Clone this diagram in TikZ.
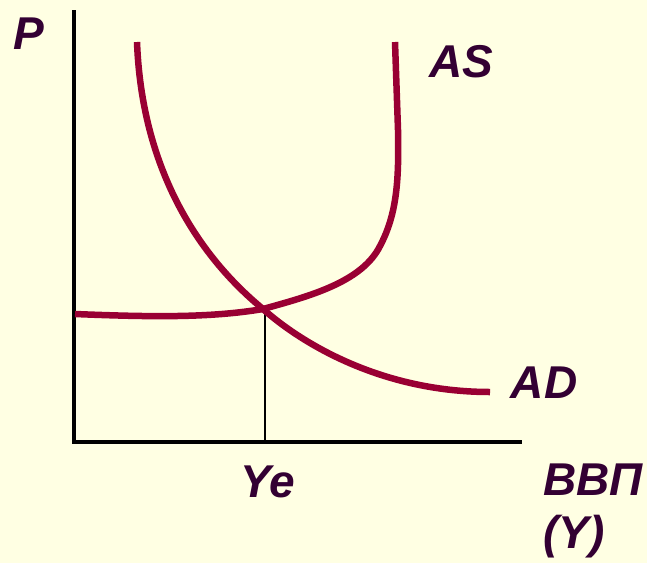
\documentclass[tikz,border=0pt]{standalone}
\usepackage{fontspec}
\setmainfont{Liberation Sans}
\definecolor{bgc}{HTML}{FFFFE3}
\definecolor{curvec}{HTML}{990033}
\definecolor{txtc}{HTML}{330033}
\begin{document}
\begin{tikzpicture}[x=1pt,y=-1pt,
  lbl/.style={text=txtc,font=\fontsize{46}{48}\selectfont\bfseries\itshape,inner sep=0pt},
  axis/.style={line width=4pt,black},
  curve/.style={line width=6.5pt,curvec}]
\fill[bgc] (0,0) rectangle (647,563);
\useasboundingbox (0,0) rectangle (647,563);
\coordinate (O) at (74,442);
\coordinate (ytop) at (74,10);
\coordinate (xend) at (522,442);
\draw[axis] (ytop) -- (O) -- (xend);
\coordinate (E) at (263,309);
\coordinate (Ebase) at (265,442);
\draw[line width=1.5pt] (265,309) -- (Ebase);
% AD
\coordinate (adtop) at (137,42);
\coordinate (adend) at (490,392);
\draw[curve] (adtop) .. controls (143,200) and (228,280) .. (E)
  .. controls (300,342) and (380,392) .. (adend);
% AS
\coordinate (asstart) at (75,314);
\coordinate (astop) at (395,42);
\draw[curve] (asstart) .. controls (150,317) and (210,318) .. (E)
  .. controls (310,296) and (362,282) .. (380,246)
  .. controls (397,214) and (399,180) .. (398,130) -- (astop);
\node[lbl] (P) at (29,34) {P};
\node[lbl] (AS) at (461,62) {AS};
\node[lbl] (AD) at (544,383) {AD};
\node[lbl] (Ye) at (268,482) {Ye};
\node[lbl,anchor=west] (GDP) at (543,480) {ВВП};
\node[lbl,anchor=west] (Yl) at (543,537) {(Y)};
\end{tikzpicture}
\end{document}
